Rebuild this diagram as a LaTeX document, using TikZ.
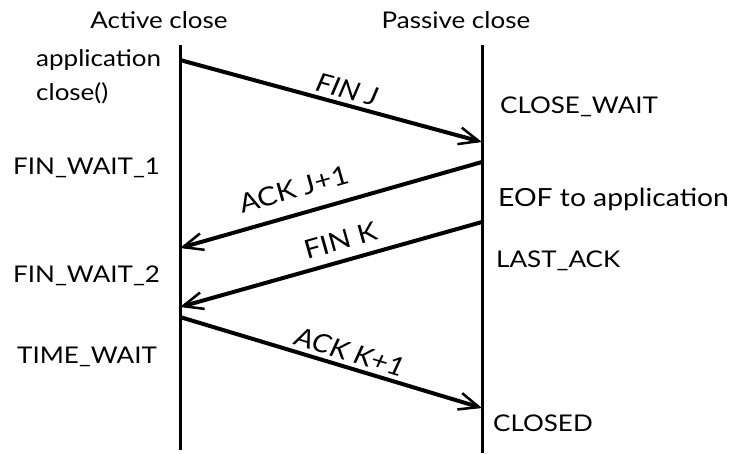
\documentclass[tikz,border=0pt]{standalone}
\usepackage{fontspec}
\setmainfont{Lato}[FakeStretch=1.13]
\usetikzlibrary{arrows.meta}
\begin{document}
\begin{tikzpicture}[x=1pt,y=1pt,
  lbl/.style={font=\fontsize{23}{26}\selectfont, inner sep=0pt},
  st/.style={lbl, anchor=base west},
  life/.style={line width=3pt},
  msg/.style={line width=4pt, -{Straight Barb[length=20pt,width=17pt,line width=2.5pt]}},
  mlbl/.style={inner sep=0pt, text depth=0pt, sloped, font=\fontsize{26}{30}\selectfont},
  mlbli/.style={mlbl, font=\fontsize{26}{30}\selectfont\itshape}]
\useasboundingbox (0,0) rectangle (729,-453);
% lifelines
\coordinate (at) at (180,-45); \coordinate (ab) at (180,-450);
\coordinate (pt) at (482,-45); \coordinate (pb) at (482,-453);
\draw[life] (at) -- (ab);
\draw[life] (pt) -- (pb);
% headers
\node[lbl, anchor=base] (hA) at (159,-28) {Active close};
\node[lbl, anchor=base] (hP) at (456,-28) {Passive close};
% message end points
\coordinate (a1) at (180,-60);  \coordinate (p1) at (482,-142);
\coordinate (p2) at (482,-162); \coordinate (a2) at (180,-248);
\coordinate (p3) at (482,-222); \coordinate (a3) at (180,-307);
\coordinate (a4) at (180,-317); \coordinate (p4) at (482,-408);
\path (a1) -- node[mlbli, pos=0.54, above=6pt] (m1) {FIN J} (p1);
\path (p2) -- node[mlbl, pos=0.6, above=16pt] (m2) {ACK J+1} (a2);
\path (p3) -- node[mlbl, pos=0.45, above=11pt] (m3) {FIN K} (a3);
\path (a4) -- node[mlbli, pos=0.55, above=6pt] (m4) {ACK K+1} (p4);
\draw[msg] (a1) -- (p1);
\draw[msg] (p2) -- (a2);
\draw[msg] (p3) -- (a3);
\draw[msg] (a4) -- (p4);
% states left
\node[st] (s1) at (36,-66) {application};
\node[st] (s2) at (36,-100) {close()};
\node[st] (s3) at (13,-174) {FIN\_WAIT\_1};
\node[st] (s4) at (13,-282) {FIN\_WAIT\_2};
\node[st] (s5) at (17,-363) {TIME\_WAIT};
% states right
\node[st] (r1) at (500,-113) {CLOSE\_WAIT};
\node[st, font=\fontsize{25}{28}\selectfont] (r2) at (498,-206) {EOF to application};
\node[st] (r3) at (496,-267) {LAST\_ACK};
\node[st] (r4) at (493,-431) {CLOSED};
\end{tikzpicture}
\end{document}
